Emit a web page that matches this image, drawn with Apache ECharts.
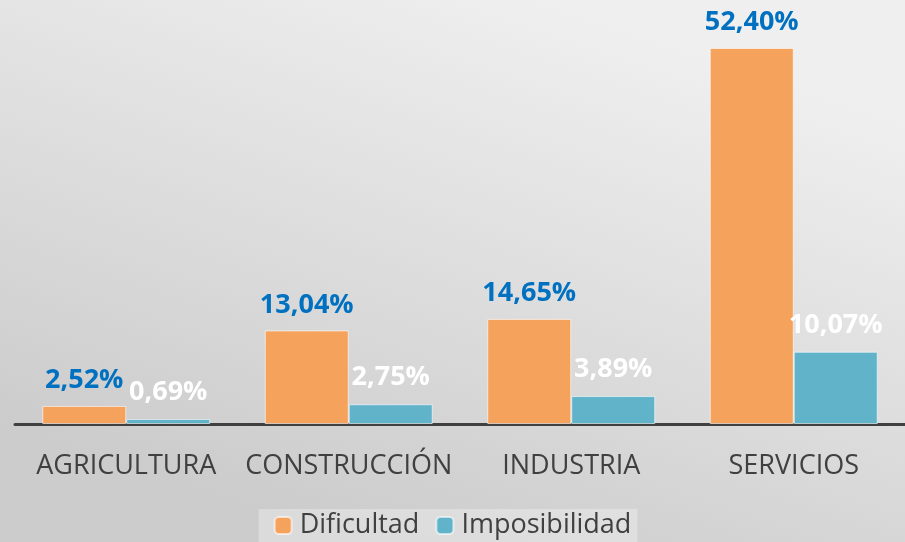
<!DOCTYPE html>
<html>
<head>
<meta charset="utf-8">
<script src="https://cdn.jsdelivr.net/npm/echarts@6/dist/echarts.min.js"></script>
<style>
html, body { margin: 0; padding: 0; }
#chart { width: 905px; height: 542px; }
</style>
</head>
<body>
<div id="chart"></div>
<script>
// datos del grafico
var categorias = ['AGRICULTURA', 'CONSTRUCCIÓN', 'INDUSTRIA', 'SERVICIOS'];
var dificultad = [2.52, 13.04, 14.65, 52.40];
var imposibilidad = [0.69, 2.75, 3.89, 10.07];

// formato con coma decimal
function fmtPct(p) {
	return p.value.toFixed(2).replace('.', ',') + '%';
}

var option = {
	backgroundColor: {
		type: 'linear', x: 0.6, y: 0, x2: 0.4, y2: 1,
		colorStops: [{ offset: 0, color: '#efefef' }, { offset: 1, color: '#cccccc' }]
	},
	textStyle: { fontFamily: 'Open Sans' },
	legend: {
		data: ['Dificultad', 'Imposibilidad'],
		bottom: 0,
		left: 'center',
		itemWidth: 17,
		itemHeight: 17,
		itemGap: 16,
		padding: [3, 6, 3, 15],
		backgroundColor: 'rgba(255,255,255,0.3)',
		textStyle: { fontSize: 27, color: '#404040', padding: [0, 0, 0, 3] }
	},
	grid: { left: 15, right: 0, top: 48, bottom: 118 },
	xAxis: {
		type: 'category',
		data: categorias,
		axisLine: { lineStyle: { color: '#404040', width: 3 } },
		axisTick: { show: false },
		axisLabel: { fontSize: 27, color: '#404040', margin: 29, interval: 0 }
	},
	yAxis: {
		type: 'value',
		min: 0,
		max: 52.4,
		show: false,
		splitLine: { show: false }
	},
	series: [
		{
			name: 'Dificultad',
			type: 'bar',
			data: dificultad,
			barGap: '0%',
			barCategoryGap: '24.5%',
			itemStyle: { color: '#f5a35c', borderColor: 'rgba(255,255,255,0.6)', borderWidth: 1 },
			label: {
				show: true,
				position: 'top',
				distance: 12,
				formatter: fmtPct,
				fontSize: 27,
				fontWeight: 'bold',
				color: '#0070c0'
			},
			animation: false
		},
		{
			name: 'Imposibilidad',
			type: 'bar',
			data: imposibilidad,
			itemStyle: { color: '#60b3c9', borderColor: 'rgba(255,255,255,0.6)', borderWidth: 1 },
			label: {
				show: true,
				position: 'top',
				distance: 13,
				formatter: fmtPct,
				fontSize: 27,
				fontWeight: 'bold',
				color: '#ffffff'
			},
			animation: false
		}
	]
};
var chart = echarts.init(document.getElementById('chart'));
chart.setOption(option);
</script>
</body>
</html>
